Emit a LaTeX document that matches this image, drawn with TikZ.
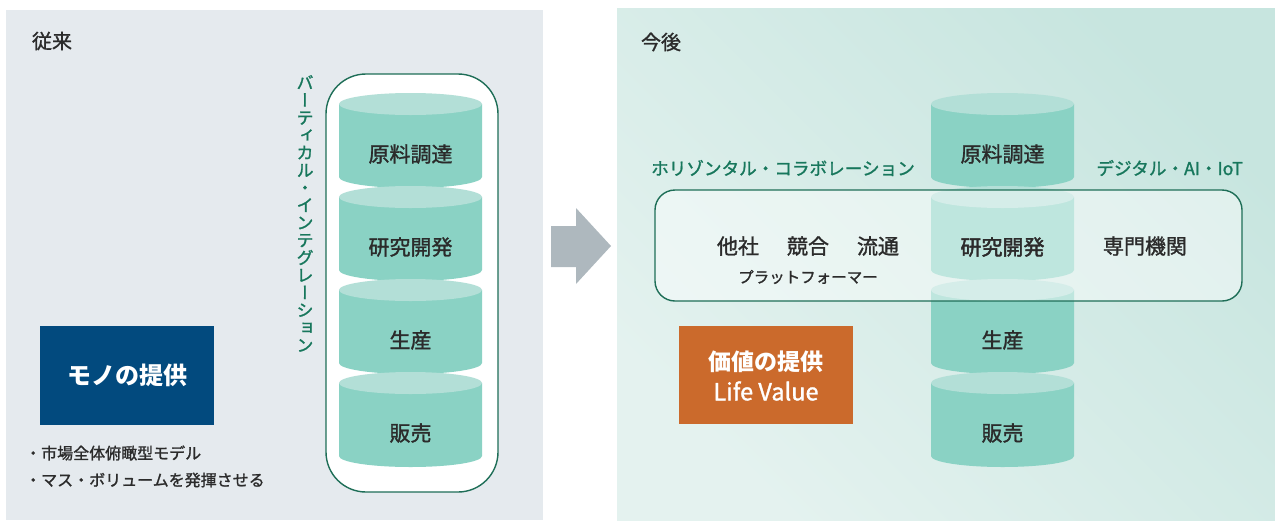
\documentclass[tikz,border=0pt]{standalone}
\usepackage{fontspec}
\setmainfont{Noto Sans CJK JP}
\newfontfamily\jp[RawFeature={embolden=1.3}]{Noto Sans CJK JP}
\newfontfamily\vjp[RawFeature={+vert,embolden=1.3}]{Noto Sans CJK JP}
\definecolor{lpanel}{HTML}{E5EAEE}
\definecolor{rtop}{HTML}{C7E5DF}
\definecolor{rmid}{HTML}{DFEFEB}
\definecolor{rbot}{HTML}{E4F2EF}
\definecolor{cylbody}{HTML}{8AD2C4}
\definecolor{cyltop}{HTML}{B3DFD7}
\definecolor{dgreen}{HTML}{1E6E57}
\definecolor{lgreen}{HTML}{17775C}
\definecolor{txt}{HTML}{2B2B2B}
\definecolor{navy}{HTML}{024A7E}
\definecolor{orng}{HTML}{CB6A2C}
\definecolor{arrowgray}{HTML}{AEB8BE}
\newcommand\mycyl[3]{%
  \fill[cylbody] (#1-71.5,#2) -- (#1-71.5,#2+73) arc[start angle=180,end angle=360,x radius=71.5pt,y radius=11pt] -- (#1+71.5,#2) -- cycle;
  \fill[cyltop] (#1,#2) ellipse[x radius=71.5pt,y radius=11pt];
  \node[cyllabel] (#3) at (#1,#2+50) {\csname lbl#3\endcsname};
}
\tikzset{
  cyllabel/.style={text=txt,font=\jp\fontsize{21}{24}\selectfont,inner sep=0pt},
  heading/.style={text=txt,font=\jp\fontsize{20}{24}\selectfont,inner sep=0pt},
  greenlbl/.style={text=lgreen,font=\jp\fontsize{17.6}{21}\selectfont,inner sep=0pt},
  bullet/.style={text=txt,font=\jp\fontsize{16}{19}\selectfont,inner sep=0pt,anchor=west},
  boxtxt/.style={text=txt,font=\jp\fontsize{21}{24}\selectfont,inner sep=0pt},
  outline/.style={draw=dgreen,line width=1.4pt},
}
\def\lbla{原料調達}\def\lblb{研究開発}\def\lblc{生産}\def\lbld{販売}
\def\lblra{原料調達}\def\lblrb{研究開発}\def\lblrc{生産}\def\lblrd{販売}
\begin{document}
\begin{tikzpicture}[x=1pt,y=-1pt]
\useasboundingbox (0,0) rectangle (1275,520);
% panels
\fill[lpanel] (6,10) rectangle (543,520);
\shade[top color=rtop,middle color=rmid,bottom color=rbot,shading angle=-45] (617,8) rectangle (1275,520);
% headings
\node[heading] (juurai) at (52,41) {従来};
\node[heading] (kongo) at (661,42) {今後};
% arrow
\fill[arrowgray] (551,226) -- (576,226) -- (576,208) -- (611,246) -- (576,284) -- (576,267) -- (551,267) -- cycle;
% left stack
\draw[outline,fill=white,rounded corners=40pt] (326,74) rectangle (498,492);
\mycyl{410.5}{104}{a}
\mycyl{410.5}{197}{b}
\mycyl{410.5}{290}{c}
\mycyl{410.5}{383}{d}
\node[text=lgreen,font=\vjp\fontsize{17.2}{17.5}\selectfont,align=center,inner sep=0pt,anchor=north] (vert) at (305,75)
 {バ\\ー\\テ\\ィ\\カ\\ル\\・\\イ\\ン\\テ\\グ\\レ\\ー\\シ\\ョ\\ン};
% mono box
\node[fill=navy,minimum width=174pt,minimum height=99pt,inner sep=0pt,text=white,font=\rmfamily\bfseries\fontsize{24}{28}\selectfont] (mono) at (127,375.5) {モノの提供};
\node[bullet] (b1) at (25,453) {・市場全体俯瞰型モデル};
\node[bullet] (b2) at (25,480) {・マス・ボリュームを発揮させる};
% right stack
\mycyl{1002.5}{104}{ra}
\mycyl{1002.5}{197}{rb}
\mycyl{1002.5}{290}{rc}
\mycyl{1002.5}{383}{rd}
\draw[outline,fill=white,fill opacity=0.45,rounded corners=20pt] (655,190) rectangle (1242,301);
\node[boxtxt] (rbtxt) at (1002.5,247) {研究開発};
\node[greenlbl] (hor) at (783,168) {ホリゾンタル・コラボレーション};
\node[greenlbl,anchor=east] (dig) at (1243,168) {デジタル・AI・IoT};
\node[boxtxt] (tasha) at (738,246) {他社};
\node[boxtxt] (kyogo) at (808,246) {競合};
\node[boxtxt] (ryutsu) at (878,246) {流通};
\node[boxtxt] (senmon) at (1145,246) {専門機関};
\node[text=txt,font=\jp\fontsize{15.5}{18}\selectfont,inner sep=0pt] (plat) at (808,277) {プラットフォーマー};
% value box
\fill[orng] (679,326) rectangle (853,424);
\node[text=white,font=\rmfamily\bfseries\fontsize{23}{28}\selectfont,inner sep=0pt] (kachi) at (766,362) {価値の提供};
\node[text=white,font=\jp\fontsize{23.5}{27}\selectfont,inner sep=0pt] (life) at (766,391) {Life Value};
\end{tikzpicture}
\end{document}
